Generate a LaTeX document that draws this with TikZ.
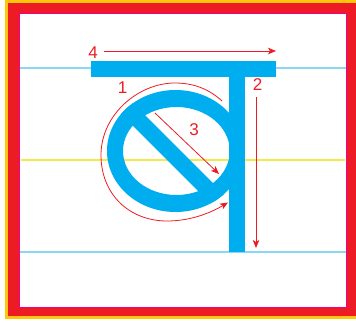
\documentclass[tikz,border=0pt]{standalone}
\usepackage{fontspec}
\setmainfont{Liberation Sans}
\usetikzlibrary{arrows.meta}
\definecolor{frameyellow}{HTML}{FFC60B}
\definecolor{framered}{HTML}{ED1C24}
\definecolor{framepink}{HTML}{EC008C}
\definecolor{lettercyan}{HTML}{00AEEF}
\definecolor{guideblue}{HTML}{8CD6F6}
\definecolor{guideyellow}{HTML}{F2EA4C}
\definecolor{strokered}{HTML}{ED1C24}
\tikzset{
  guide/.style={line width=1.6pt},
  strokearrow/.style={draw=strokered, line width=0.8pt, -{Stealth[length=8pt,width=6.5pt,inset=2pt]}},
  numlabel/.style={text=strokered, inner sep=0pt, font=\fontsize{17}{17}\selectfont},
  letter/.style={fill=lettercyan, draw=none}
}
\begin{document}
\begin{tikzpicture}[x=1pt,y=-1pt]
\useasboundingbox (0,0) rectangle (356,324);
% frame
\fill[frameyellow] (5,0) rectangle (357,318.5);
\fill[framered] (8,2.5) rectangle (356,316);
\draw[framepink, line width=0.9pt, fill=white] (19,13) rectangle (346.5,307);
% guide lines
\draw[guide, guideblue] (19.5,68) -- (346,68);
\draw[guide, guideyellow] (21,160) -- (345,160);
\draw[guide, guideblue] (19.5,252) -- (346,252);
% letter: head bar and stem
\fill[letter] (91,61) rectangle (276,77);
\fill[letter] (229,77) rectangle (245,252);
% ring
\fill[letter, even odd rule] (175.5,151) ellipse [x radius=68.5, y radius=61]
  (176.4,151) ellipse [x radius=53.4, y radius=44];
% diagonal bar
\begin{scope}
  \clip (175.5,151) ellipse [x radius=68.5, y radius=61];
  \draw[lettercyan, line width=16pt] (120,101.5) -- (225,206.5);
\end{scope}
% labels
\node[numlabel] (n4) at (93,52.5) {4};
\node[numlabel] (n1) at (122.5,87.5) {1};
\node[numlabel] (n2) at (257.5,84.5) {2};
\node[numlabel] (n3) at (194,130) {3};
% stroke coordinates
\coordinate (s4a) at (104,51);
\coordinate (s4b) at (276,51);
\coordinate (s2a) at (256,97);
\coordinate (s2b) at (256,248);
\coordinate (s3a) at (155,113);
\coordinate (s3b) at (219,174);
\coordinate (s1a) at (222,101);
\coordinate (s1b) at (228,202.5);
% strokes
\draw[strokearrow] (s4a) -- (s4b);
\draw[strokearrow] (s2a) -- (s2b);
\draw[strokearrow] (s3a) -- (s3b);
\draw[strokearrow] (s1a) .. controls (210,90) and (195,83) .. (175,83)
  .. controls (138,83) and (101,115) .. (101,155)
  .. controls (101,195) and (130,221) .. (167,221)
  .. controls (192,221) and (212,212) .. (s1b);
\end{tikzpicture}
\end{document}
